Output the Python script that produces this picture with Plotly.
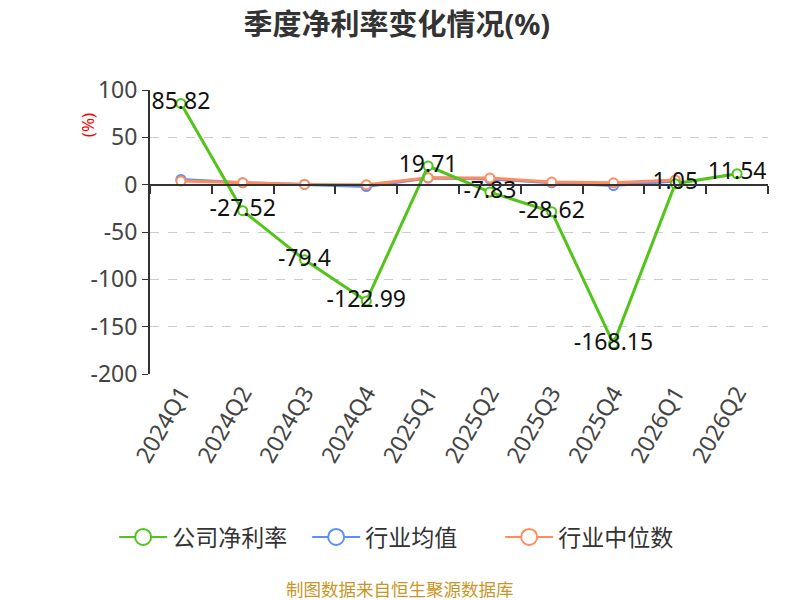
import plotly.graph_objects as go

quarters = ['2024Q1', '2024Q2', '2024Q3', '2024Q4', '2025Q1',
            '2025Q2', '2025Q3', '2025Q4', '2026Q1', '2026Q2']
company = [85.82, -27.52, -79.4, -122.99, 19.71, -7.83, -28.62, -168.15, 1.05, 11.54]
industry_avg = [5.5, 2.0, 0.2, -2.0, 7.0, 6.0, 2.0, -1.0, 4.0, None]
industry_median = [3.8, 2.1, 0.3, 0.0, 7.4, 7.0, 2.8, 2.0, 5.0, None]
y_ticks = [100, 50, 0, -50, -100, -150, -200]

FONT = 'Noto Sans, Noto Sans CJK SC, sans-serif'
N = len(quarters)

series = [
    ('公司净利率', company, '#52c41a'),
    ('行业均值', industry_avg, '#5b8ff9'),
    ('行业中位数', industry_median, '#ff8c5e'),
]

fig = go.Figure()

# draw order: average, median, then the company line on top
for name, vals, color in [series[1], series[2], series[0]]:
    is_company = name == '公司净利率'
    fig.add_trace(go.Scatter(
        x=quarters, y=vals, name=name, legendgroup=name, showlegend=False,
        mode='lines+markers+text' if is_company else 'lines+markers',
        line=dict(color=color, width=3),
        marker=dict(size=9, color='white', line=dict(color=color, width=2)),
        text=[f'{v:g}' for v in vals] if is_company else None,
        textposition='middle center',
        textfont=dict(size=23, color='#111111', family=FONT),
    ))

# legend-only entries with the bigger hollow circle
for rank, (name, vals, color) in enumerate(series):
    fig.add_trace(go.Scatter(
        x=[None], y=[None], name=name, legendgroup=name, legendrank=rank + 1,
        mode='lines+markers', line=dict(color=color, width=2),
        marker=dict(size=16, color='white', line=dict(color=color, width=2)),
    ))

# invisible trace on the overlay axis so the zero-line ticks are drawn
fig.add_trace(go.Scatter(
    x=[0], y=[0], xaxis='x2', mode='markers', marker=dict(opacity=0),
    showlegend=False, hoverinfo='skip',
))

# the page body adds 8px, so margins are shifted by that much
fig.update_layout(
    width=800, height=600,
    plot_bgcolor='white', paper_bgcolor='white',
    margin=dict(l=142, r=40, t=82, b=234),
    font=dict(family=FONT, color='#333333'),
    title=dict(text='<b>季度净利率变化情况(%)</b>', x=0.486, xanchor='center',
               y=0.972, yanchor='middle', font=dict(size=29, color='#333333')),
    showlegend=True,
    legend=dict(orientation='h', x=-0.058, xanchor='left', y=-0.574, yanchor='middle',
                font=dict(size=23, color='#333333'), itemsizing='trace',
                itemwidth=48, entrywidth=130),
    annotations=[
        dict(text='制图数据来自恒生聚源数据库', xref='paper', yref='paper',
             x=0.405, y=-0.757, xanchor='center', yanchor='middle', showarrow=False,
             font=dict(size=17.5, color='#c89628')),
        dict(text='(%)', xref='paper', yref='paper', x=-0.1, y=0.877,
             xanchor='center', yanchor='middle',
             textangle=-90, showarrow=False, font=dict(size=17, color='red')),
    ],
    xaxis=dict(
        range=[-0.5, N - 0.5],
        showgrid=False, showline=False, zeroline=False,
        tickangle=-60, tickfont=dict(size=23, color='#444444'),
        ticks='', automargin=False,
    ),
    xaxis2=dict(overlaying='x', anchor='free', position=2 / 3,
                range=[-0.5, N - 0.5], tickmode='array',
                tickvals=[i - 0.5 for i in range(N + 1)],
                showticklabels=False, ticks='outside', ticklen=8, tickwidth=1.5,
                tickcolor='#333333', showline=True, linecolor='#333333', linewidth=2,
                showgrid=False, zeroline=False, automargin=False),
    yaxis=dict(
        range=[-200, 100], tickmode='array', tickvals=y_ticks,
        ticktext=[str(v) for v in y_ticks],
        showgrid=True, gridcolor='#cccccc',
        griddash='dash', gridwidth=1, zeroline=False,
        showline=True, linecolor='#333333', linewidth=2,
        ticks='outside', ticklen=6, tickcolor='#333333',
        tickfont=dict(size=23, color='#444444'), automargin=False,
    ),
)

fig.write_html('out.html')
